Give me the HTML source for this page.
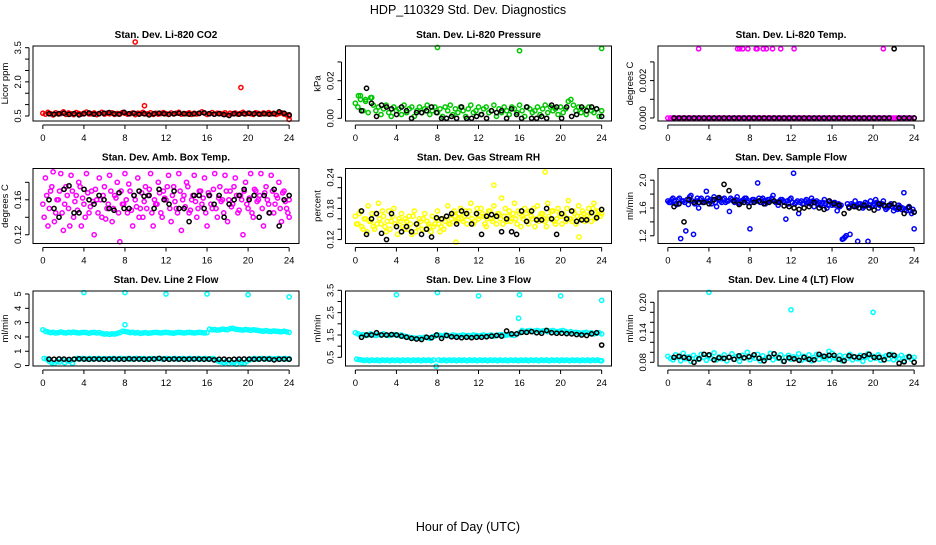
<!DOCTYPE html>
<html><head><meta charset="utf-8"><style>
body{margin:0;background:#fff}
svg text{font-family:"Liberation Sans",Arial,sans-serif}
</style></head><body>
<svg id="c" width="936" height="540" xmlns="http://www.w3.org/2000/svg">
<text x="468" y="14" text-anchor="middle" font-size="12.5">HDP_110329  Std. Dev. Diagnostics</text>
<text x="468" y="531" text-anchor="middle" font-size="12.5">Hour of Day (UTC)</text>
</svg>
<script>
// ---- data ----
const co2Col=[0.62,0.58,0.66,0.60,0.55,0.64,0.59,0.61,0.68,0.57,0.63,0.60,0.56,0.65,0.61,0.58,0.62,0.67,0.59,0.60,0.63,0.56,0.61,0.66,0.58,0.62,0.60,0.64,0.57,0.61,0.59,0.65,0.62,0.58,0.60,0.63,0.56,0.62,0.61,0.66,0.59,0.60,0.64,0.57,0.62,0.58,0.61,0.65,0.60,0.57,0.63,0.59,0.62,0.66,0.58,0.61,0.60,0.64,0.57,0.62,0.59,0.61,0.68,0.63,0.57,0.60,0.65,0.58,0.62,0.61,0.59,0.64,0.56,0.62,0.60,0.63,0.58,0.61,0.66,0.59,0.62,0.60,0.57,0.64,0.61,0.58,0.63,0.60,0.65,0.59,0.62,0.57,0.61,0.64,0.58,0.55,0.50];
const co2Blk=[0.6,0.58,0.6,0.62,0.57,0.6,0.55,0.6,0.63,0.58,0.6,0.62,0.65,0.6,0.58,0.66,0.6,0.62,0.58,0.6,0.55,0.6,0.62,0.6,0.58,0.6,0.62,0.6,0.58,0.6,0.62,0.64,0.6,0.58,0.6,0.56,0.52,0.6,0.58,0.6,0.62,0.6,0.58,0.6,0.58,0.6,0.68,0.62,0.55];
const co2OutT=[9,9.9,19.3,24];
const co2OutV=[3.75,0.95,1.75,0.35];

const presCol=[0.008,0.006,0.012,0.004,0.009,0.003,0.011,0.007,0.004,0.006,0.002,0.005,0.007,0.003,0.001,0.006,0.004,0.005,0.002,0.007,0.003,0.005,0.006,0.001,0.004,0.006,0.003,0.005,0.007,0.002,0.004,0.006,0.003,0.005,0.001,0.006,0.004,0.007,0.002,0.005,0.003,0.006,0.004,0.001,0.005,0.007,0.003,0.004,0.006,0.002,0.005,0.006,0.003,0.004,0.007,0.001,0.005,0.003,0.006,0.004,0.002,0.006,0.005,0.003,0.007,0.004,0.001,0.006,0.005,0.003,0.004,0.006,0.002,0.005,0.007,0.003,0.006,0.004,0.005,0.002,0.006,0.003,0.005,0.009,0.010,0.007,0.004,0.006,0.003,0.005,0.002,0.006,0.004,0.003,0.005,0.001,0.004];
const presBlk=[0.004,0.016,0.008,0.001,0.007,0.006,0.005,0.002,0.006,0.004,0.0,0.003,0.003,0.004,0.006,0.003,0.0,0.0,0.001,0.0,0.006,0.0,0.0,0.001,0.002,0.0,0.004,0.003,0.004,0.0,0.005,0.002,0.0,0.006,0.0,0.0,0.001,0.0,0.007,0.006,0.0,0.006,0.001,0.002,0.006,0.004,0.006,0.005,0.001];
const presOutT=[0.3,0.5,1.0,1.6,8,16,24];
const presOutV=[0.012,0.010,0.010,0.011,0.0377,0.036,0.0372];

const tempCol=Array(97).fill(0);
const tempBlk=[0,0,0,0,0,0,0,0,0,0,0,0,0,0,0,0,0,0,0,0,0,0,0,0,0,0,0,0,0,0,0,0,0,0,0,0,0,0,0,0,0,0,0,0,0.0037,0,0,0,0];
const tempOutT=[3,6.8,7,7.3,7.8,8.6,8.7,9.3,9.6,10.2,11,12.3,21];
const tempOutV=[0.0037,0.0037,0.0037,0.0037,0.0037,0.0037,0.0037,0.0037,0.0037,0.0037,0.0037,0.0037,0.0037];

const ambCol=[0.155,0.185,0.13,0.17,0.192,0.145,0.16,0.19,0.125,0.175,0.15,0.188,0.14,0.165,0.18,0.13,0.155,0.19,0.145,0.17,0.12,0.16,0.185,0.14,0.175,0.15,0.188,0.135,0.165,0.18,0.112,0.155,0.19,0.145,0.17,0.13,0.16,0.185,0.15,0.14,0.175,0.165,0.19,0.13,0.155,0.18,0.145,0.17,0.16,0.188,0.135,0.175,0.15,0.19,0.125,0.165,0.18,0.145,0.16,0.188,0.14,0.17,0.155,0.185,0.13,0.165,0.15,0.19,0.14,0.175,0.16,0.188,0.135,0.17,0.155,0.185,0.145,0.165,0.12,0.18,0.15,0.19,0.14,0.17,0.16,0.19,0.13,0.175,0.155,0.188,0.145,0.165,0.18,0.135,0.17,0.15,0.14];
const ambCol2=[0.14,0.165,0.15,0.175,0.135,0.16,0.17,0.145,0.155,0.165,0.13,0.17,0.158,0.148,0.175,0.162,0.14,0.168,0.152,0.158,0.172,0.145,0.16,0.165,0.138,0.155,0.17,0.15,0.162,0.145,0.17,0.155,0.16,0.178,0.148,0.165,0.152,0.14,0.168,0.158,0.15,0.172,0.145,0.16,0.155,0.168,0.14,0.162,0.175,0.15,0.165,0.158,0.145,0.17,0.16,0.152,0.175,0.148,0.165,0.158,0.15,0.17,0.162,0.145,0.168,0.155,0.172,0.15,0.162,0.158,0.145,0.17,0.16,0.152,0.175,0.165,0.148,0.16,0.17,0.155,0.162,0.145,0.172,0.158,0.165,0.15,0.168,0.16,0.145,0.17,0.155,0.162,0.15,0.168,0.158,0.145,0.16];
const ambBlk=[0.16,0.15,0.14,0.172,0.176,0.145,0.145,0.172,0.16,0.155,0.165,0.16,0.15,0.148,0.168,0.15,0.15,0.165,0.17,0.164,0.165,0.15,0.172,0.16,0.155,0.17,0.15,0.15,0.135,0.165,0.165,0.15,0.165,0.155,0.165,0.14,0.155,0.16,0.165,0.172,0.16,0.165,0.14,0.165,0.145,0.172,0.13,0.16,0.165];

const rhCol=[0.165,0.15,0.175,0.14,0.16,0.185,0.155,0.145,0.17,0.19,0.15,0.165,0.135,0.175,0.155,0.18,0.145,0.16,0.17,0.14,0.155,0.165,0.13,0.175,0.15,0.16,0.14,0.17,0.155,0.145,0.165,0.15,0.175,0.135,0.16,0.155,0.185,0.15,0.17,0.165,0.16,0.18,0.155,0.175,0.165,0.19,0.15,0.17,0.16,0.18,0.165,0.145,0.175,0.16,0.185,0.15,0.17,0.2,0.165,0.155,0.175,0.16,0.19,0.15,0.17,0.165,0.18,0.155,0.175,0.16,0.145,0.185,0.165,0.17,0.155,0.19,0.16,0.175,0.15,0.18,0.165,0.17,0.155,0.195,0.16,0.175,0.15,0.185,0.165,0.17,0.16,0.18,0.155,0.19,0.165,0.175,0.17];
const rhCol2=[0.15,0.17,0.145,0.16,0.135,0.155,0.17,0.14,0.15,0.16,0.175,0.145,0.155,0.14,0.165,0.15,0.13,0.155,0.145,0.16,0.14,0.15,0.165,0.135,0.145,0.155,0.16,0.14,0.15,0.135,0.145,0.16,0.15,0.145,0.14,0.165,0.15,0.16,0.175,0.155,0.17,0.16,0.165,0.15,0.175,0.16,0.155,0.18,0.165,0.17,0.15,0.16,0.175,0.155,0.165,0.17,0.16,0.15,0.18,0.165,0.155,0.17,0.16,0.175,0.145,0.16,0.17,0.15,0.165,0.18,0.16,0.155,0.17,0.16,0.145,0.165,0.175,0.155,0.16,0.17,0.15,0.165,0.18,0.16,0.155,0.17,0.165,0.16,0.175,0.155,0.165,0.17,0.18,0.16,0.175,0.165,0.17];
const rhBlk=[0.175,0.13,0.16,0.17,0.132,0.12,0.17,0.145,0.135,0.145,0.135,0.15,0.13,0.14,0.125,0.162,0.16,0.165,0.17,0.15,0.175,0.17,0.15,0.17,0.13,0.165,0.168,0.165,0.135,0.16,0.135,0.13,0.175,0.155,0.175,0.158,0.158,0.18,0.16,0.13,0.17,0.16,0.175,0.155,0.158,0.158,0.172,0.162,0.178];
const rhOutT=[13.5,18.5,9.8,21.8];
const rhOutV=[0.225,0.25,0.115,0.125];

const sfCol=[1.7,1.68,1.74,1.66,1.72,1.16,1.7,1.27,1.65,1.78,1.22,1.7,1.6,1.74,1.68,1.84,1.7,1.66,1.76,1.62,1.72,1.68,1.74,1.7,1.55,1.72,1.68,1.76,1.66,1.7,1.74,1.68,1.3,1.72,1.7,1.96,1.68,1.74,1.66,1.72,1.7,1.78,1.68,1.64,1.72,1.7,1.44,1.66,1.74,2.1,1.68,1.52,1.7,1.66,1.72,1.68,1.74,1.62,1.7,1.68,1.66,1.72,1.6,1.7,1.64,1.68,1.56,1.62,1.15,1.18,1.66,1.22,1.64,1.7,1.12,1.66,1.6,1.68,1.12,1.7,1.64,1.72,1.6,1.66,1.7,1.58,1.62,1.66,1.56,1.6,1.64,1.58,1.82,1.56,1.62,1.52,1.3];
const sfCol2=[1.68,1.72,1.7,1.65,1.74,1.7,1.68,1.72,1.76,1.7,1.66,1.74,1.72,1.68,1.7,1.74,1.72,1.7,1.68,1.74,1.7,1.72,1.68,1.7,1.74,1.7,1.72,1.68,1.7,1.72,1.74,1.7,1.68,1.72,1.7,1.74,1.72,1.7,1.68,1.72,1.74,1.7,1.68,1.7,1.72,1.68,1.7,1.72,1.68,1.66,1.7,1.68,1.66,1.7,1.68,1.66,1.7,1.68,1.66,1.64,1.68,1.66,1.64,1.68,1.66,1.64,1.66,1.64,1.16,1.2,1.62,1.66,1.64,1.62,1.66,1.64,1.62,1.66,1.64,1.62,1.66,1.68,1.64,1.66,1.62,1.6,1.64,1.62,1.6,1.58,1.62,1.6,1.58,1.6,1.56,1.58,1.54];
const sfBlk=[1.62,1.66,1.4,1.72,1.68,1.68,1.68,1.66,1.72,1.75,1.94,1.85,1.7,1.65,1.68,1.62,1.68,1.7,1.66,1.68,1.7,1.68,1.63,1.62,1.6,1.58,1.6,1.62,1.68,1.6,1.58,1.7,1.66,1.64,1.52,1.6,1.62,1.6,1.64,1.6,1.57,1.66,1.64,1.64,1.66,1.6,1.52,1.61,1.54];

const l2Hi=[2.5,2.4,2.35,2.3,2.32,2.28,2.3,2.35,2.3,2.28,2.32,2.3,2.34,2.3,2.28,2.3,2.32,2.3,2.26,2.3,2.32,2.28,2.3,2.24,2.2,2.22,2.18,2.22,2.2,2.25,2.3,2.4,2.38,2.35,2.3,2.32,2.28,2.3,2.25,2.28,2.3,2.26,2.28,2.3,2.32,2.3,2.28,2.3,2.32,2.3,2.28,2.26,2.3,2.32,2.3,2.28,2.3,2.32,2.3,2.28,2.3,2.32,2.3,2.28,2.3,2.55,2.5,2.52,2.48,2.5,2.55,2.52,2.5,2.58,2.6,2.55,2.52,2.5,2.48,2.52,2.5,2.46,2.5,2.48,2.45,2.42,2.4,2.44,2.4,2.38,2.42,2.4,2.38,2.36,2.4,2.36,2.32];
const l2Lo=[0.5,0.45,0.3,0.2,0.15,0.3,0.25,0.4,0.2,0.35,0.3,0.15,0.45,0.5,0.45,0.5,0.48,0.45,0.5,0.45,0.48,0.5,0.45,0.48,0.5,0.45,0.48,0.5,0.45,0.48,0.5,0.45,0.48,0.5,0.45,0.48,0.5,0.45,0.48,0.5,0.45,0.48,0.5,0.45,0.48,0.5,0.45,0.48,0.5,0.45,0.48,0.5,0.45,0.48,0.5,0.45,0.48,0.5,0.45,0.48,0.5,0.45,0.48,0.5,0.45,0.48,0.5,0.4,0.3,0.25,0.2,0.3,0.15,0.25,0.2,0.1,0.3,0.2,0.15,0.3,0.4,0.45,0.5,0.45,0.48,0.5,0.45,0.48,0.5,0.45,0.48,0.5,0.45,0.48,0.5,0.45,0.48];
const l2Blk=[0.45,0.44,0.46,0.45,0.43,0.45,0.47,0.45,0.44,0.46,0.45,0.44,0.45,0.46,0.45,0.44,0.47,0.45,0.46,0.44,0.45,0.46,0.5,0.45,0.44,0.46,0.45,0.44,0.45,0.46,0.45,0.44,0.45,0.4,0.44,0.45,0.42,0.44,0.45,0.46,0.45,0.44,0.45,0.46,0.45,0.4,0.44,0.45,0.44];
const l2OutT=[4,8,12,16,20,24,8];
const l2OutV=[5.1,5.1,5.0,5.0,4.95,4.8,2.85];

const l3Hi=[1.6,1.55,1.5,1.52,1.48,1.5,1.55,1.5,1.48,1.52,1.5,1.55,1.5,1.48,1.5,1.52,1.5,1.48,1.5,1.45,1.42,1.4,1.38,1.36,1.35,1.38,1.36,1.4,1.38,1.35,1.42,1.45,1.5,1.48,1.45,1.5,1.48,1.45,1.5,1.48,1.45,1.48,1.5,1.46,1.48,1.45,1.5,1.48,1.45,1.48,1.5,1.46,1.48,1.5,1.45,1.48,1.5,1.52,1.48,1.5,1.52,1.5,1.48,1.55,1.6,1.7,1.65,1.68,1.7,1.65,1.68,1.7,1.66,1.68,1.7,1.65,1.68,1.7,1.66,1.65,1.68,1.7,1.65,1.62,1.65,1.6,1.62,1.6,1.58,1.6,1.62,1.58,1.6,1.55,1.58,1.6,1.55];
const l3Lo=[0.42,0.4,0.38,0.36,0.38,0.35,0.38,0.36,0.38,0.35,0.38,0.36,0.38,0.35,0.38,0.36,0.38,0.35,0.38,0.36,0.38,0.35,0.38,0.36,0.38,0.35,0.38,0.36,0.38,0.35,0.38,0.1,0.38,0.36,0.38,0.35,0.38,0.36,0.38,0.35,0.38,0.36,0.38,0.35,0.38,0.36,0.38,0.35,0.38,0.36,0.38,0.35,0.38,0.36,0.38,0.35,0.38,0.36,0.38,0.35,0.38,0.36,0.38,0.35,0.38,0.36,0.38,0.35,0.38,0.36,0.38,0.35,0.38,0.36,0.38,0.35,0.38,0.36,0.38,0.35,0.38,0.36,0.38,0.35,0.38,0.36,0.38,0.35,0.38,0.36,0.38,0.35,0.38,0.36,0.38,0.35,0.35];
const l3Blk=[1.4,1.5,1.5,1.6,1.5,1.5,1.52,1.5,1.45,1.4,1.35,1.32,1.3,1.4,1.38,1.5,1.35,1.48,1.42,1.4,1.38,1.4,1.38,1.4,1.4,1.42,1.45,1.48,1.45,1.68,1.55,1.55,1.62,1.62,1.65,1.6,1.58,1.7,1.6,1.58,1.58,1.56,1.55,1.52,1.5,1.48,1.55,1.6,1.05];
const l3OutT=[4,8,12,16,20,24,15.9];
const l3OutV=[3.3,3.4,3.25,3.3,3.25,3.05,2.25];

const l4Col=[0.092,0.088,0.085,0.095,0.09,0.083,0.098,0.087,0.091,0.082,0.094,0.089,0.086,0.096,0.09,0.084,0.093,0.088,0.099,0.085,0.091,0.087,0.095,0.083,0.09,0.097,0.086,0.092,0.082,0.094,0.089,0.1,0.085,0.091,0.088,0.096,0.083,0.093,0.087,0.09,0.098,0.085,0.092,0.088,0.095,0.082,0.09,0.094,0.086,0.091,0.089,0.097,0.084,0.092,0.087,0.095,0.083,0.09,0.096,0.086,0.093,0.088,0.091,0.085,0.098,0.089,0.087,0.094,0.083,0.092,0.088,0.096,0.085,0.091,0.087,0.094,0.082,0.09,0.097,0.086,0.092,0.088,0.095,0.084,0.09,0.093,0.087,0.096,0.085,0.091,0.088,0.094,0.083,0.09,0.092,0.086,0.09];
const l4Blk=[0.09,0.092,0.09,0.088,0.08,0.087,0.096,0.095,0.085,0.089,0.088,0.09,0.086,0.093,0.089,0.091,0.095,0.088,0.083,0.09,0.097,0.089,0.082,0.089,0.087,0.084,0.09,0.086,0.085,0.096,0.092,0.094,0.094,0.086,0.083,0.093,0.091,0.09,0.093,0.096,0.09,0.09,0.085,0.095,0.094,0.078,0.081,0.091,0.08];
const l4OutT=[4,12,20,15.7];
const l4OutV=[0.22,0.185,0.18,0.102];

const xTicks=[0,4,8,12,16,20,24];

// ---- drawing ----
const svg=document.getElementById('c');
const NS='http://www.w3.org/2000/svg';
function mk(tag,attrs,parent){const e=document.createElementNS(NS,tag);for(const k in attrs)e.setAttribute(k,attrs[k]);(parent||svg).appendChild(e);return e;}

const panels=[
 {key:'co2',title:'Stan. Dev. Li-820 CO2',ylab:'Licor ppm',col:'#ff0000',dom:[0.28,3.575],ticks:[0.5,1,1.5,2,2.5,3,3.5],labs:[[0.5,'0.5'],[2,'2.0'],[3.5,'3.5']],series:[co2Col],blk:co2Blk,outT:co2OutT,outV:co2OutV},
 {key:'pressure',title:'Stan. Dev. Li-820 Pressure',ylab:'kPa',col:'#00c800',dom:[-0.00144,0.0385],ticks:[0,0.01,0.02,0.03],labs:[[0,'0.00'],[0.02,'0.02']],series:[presCol],blk:presBlk,outT:presOutT,outV:presOutV},
 {key:'temp',title:'Stan. Dev. Li-820 Temp.',ylab:'degrees C',col:'#ff00ff',dom:[-0.00016,0.00385],ticks:[0,0.001,0.002,0.003],labs:[[0,'0.000'],[0.002,'0.002']],series:[tempCol],blk:tempBlk,outT:tempOutT,outV:tempOutV},
 {key:'amb-temp',title:'Stan. Dev. Amb. Box Temp.',ylab:'degrees C',col:'#ff00ff',dom:[0.110,0.1958],ticks:[0.12,0.14,0.16,0.18],labs:[[0.12,'0.12'],[0.16,'0.16']],series:[ambCol,ambCol2],blk:ambBlk,outT:[],outV:[]},
 {key:'rh',title:'Stan. Dev. Gas Stream RH',ylab:'percent',col:'#ffff00',dom:[0.1124,0.257],ticks:[0.12,0.14,0.16,0.18,0.2,0.22,0.24],labs:[[0.12,'0.12'],[0.18,'0.18'],[0.24,'0.24']],series:[rhCol,rhCol2],blk:rhBlk,outT:rhOutT,outV:rhOutV},
 {key:'sample-flow',title:'Stan. Dev. Sample Flow',ylab:'ml/min',col:'#0000ff',dom:[1.089,2.168],ticks:[1.2,1.4,1.6,1.8,2.0],labs:[[1.2,'1.2'],[1.6,'1.6'],[2.0,'2.0']],series:[sfCol,sfCol2],blk:sfBlk,outT:[],outV:[]},
 {key:'line2',title:'Stan. Dev. Line 2 Flow',ylab:'ml/min',col:'#00ffff',dom:[-0.03,5.21],ticks:[0,1,2,3,4,5],labs:[[0,'0'],[1,'1'],[2,'2'],[3,'3'],[4,'4'],[5,'5']],series:[l2Hi,l2Lo],blk:l2Blk,outT:l2OutT,outV:l2OutV},
 {key:'line3',title:'Stan. Dev. Line 3 Flow',ylab:'ml/min',col:'#00ffff',dom:[0.112,3.47],ticks:[0.5,1,1.5,2,2.5,3,3.5],labs:[[0.5,'0.5'],[1.5,'1.5'],[2.5,'2.5'],[3.5,'3.5']],series:[l3Hi,l3Lo],blk:l3Blk,outT:l3OutT,outV:l3OutV},
 {key:'line4',title:'Stan. Dev. Line 4 (LT) Flow',ylab:'ml/min',col:'#00ffff',dom:[0.0726,0.2226],ticks:[0.08,0.1,0.12,0.14,0.16,0.18,0.2],labs:[[0.08,'0.08'],[0.14,'0.14'],[0.2,'0.20']],series:[l4Col],blk:l4Blk,outT:l4OutT,outV:l4OutV}
];

const W=266,H=75,R=2.1,SW=1.5;
panels.forEach((p,idx)=>{
 const c=idx%3,r=Math.floor(idx/3);
 const L=33+c*312.5,T=46+r*122.5;
 const g=mk('g',{});
 
 
 const xs=t=>L+W*(t+0.96)/25.92;
 const ys=v=>T+H-H*(v-p.dom[0])/(p.dom[1]-p.dom[0]);
 const t=mk('text',{x:L+W/2,y:T-8,'text-anchor':'middle','font-size':'10','font-weight':'bold'},g);t.textContent=p.title;
 
 
 const xa=mk('g',{},g);
 
 
 mk('line',{x1:xs(0),x2:xs(24),y1:T+H+4,y2:T+H+4,stroke:'#000','stroke-width':1},xa);
 xTicks.forEach(v=>{mk('line',{x1:xs(v),x2:xs(v),y1:T+H+4,y2:T+H+8,stroke:'#000','stroke-width':1},xa);
  const tx=mk('text',{x:xs(v),y:T+H+20,'text-anchor':'middle','font-size':'9.5'},xa);tx.textContent=v;});
 const ya=mk('g',{},g);
 
 
 mk('line',{x1:L-4,x2:L-4,y1:ys(p.ticks[0]),y2:ys(p.ticks[p.ticks.length-1]),stroke:'#000','stroke-width':1},ya);
 p.ticks.forEach(v=>mk('line',{x1:L-8,x2:L-4,y1:ys(v),y2:ys(v),stroke:'#000','stroke-width':1},ya));
 p.labs.forEach(([v,s])=>{const tx=mk('text',{x:L-12,y:ys(v),'text-anchor':'middle','font-size':'9.5',transform:`rotate(-90 ${L-12} ${ys(v)})`},ya);tx.textContent=s;});
 const yt=mk('text',{x:L-25,y:T+H/2,'text-anchor':'middle','font-size':'9.5',transform:`rotate(-90 ${L-25} ${T+H/2})`},g);yt.textContent=p.ylab;
 
 
 const pts=mk('g',{fill:'none','stroke-width':SW},g);
 
 
 p.series.forEach((arr,si)=>{
  const off=si*0.125;
  arr.forEach((v,i)=>{const tt=Math.min(24,i*24/(arr.length-1)+off);
   const e=mk('circle',{cx:xs(tt),cy:ys(v),r:R,stroke:p.col},pts);
   
   });
 });
 p.outT.forEach((tt,i)=>{const e=mk('circle',{cx:xs(tt),cy:ys(p.outV[i]),r:R,stroke:p.col},pts);
   
   });
 p.blk.forEach((v,i)=>{const tt=0.6+i*23.4/(p.blk.length-1);
   const e=mk('circle',{cx:xs(tt),cy:ys(v),r:R,stroke:'#000'},pts);
   
   });
 const box=mk('rect',{x:L,y:T,width:W,height:H,fill:'none',stroke:'#000','stroke-width':1},g);
 
 
});
</script>
</body></html>
